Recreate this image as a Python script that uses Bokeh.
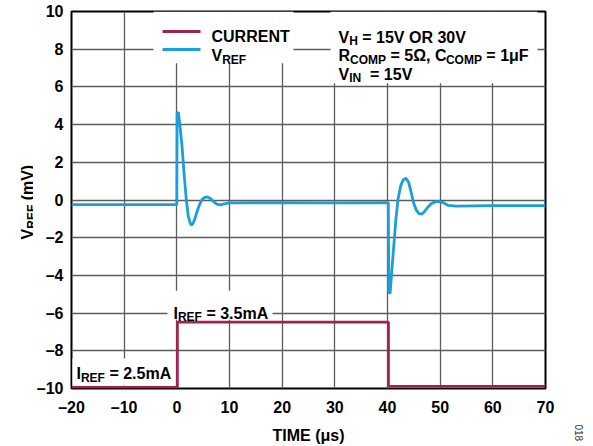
import math
from bokeh.plotting import figure
from bokeh.layouts import row
from bokeh.models import Label, FixedTicker, Range1d
from bokeh.embed import file_html
from bokeh.resources import INLINE

# ---- data -------------------------------------------------------------
# VREF transient response (mV) versus time (us)
vref_t = [-20, -10, 0.0, 0.05, 0.3, 0.6, 1.0, 1.4, 1.8, 2.2, 2.6, 2.9, 3.3, 3.8,
          4.3, 4.8, 5.3, 5.8, 6.4, 7.0, 7.6, 8.3, 9.0, 10, 20, 30, 40.15,
          40.25, 40.5, 40.8, 41.2, 41.6, 42.0, 42.5, 43.0, 43.5, 44.0, 44.5,
          45.0, 45.5, 46.0, 46.5, 47.0, 47.6, 48.3, 49.0, 49.8, 50.6, 51.5,
          53, 60, 70]
vref_mv = [-0.25, -0.25, -0.25, 4.6, 4.65, 3.9, 2.8, 1.3, 0.0, -0.9, -1.28, -1.32,
           -1.1, -0.65, -0.25, 0.02, 0.14, 0.16, 0.08, -0.1, -0.22, -0.26, -0.2,
           -0.15, -0.14, -0.15, -0.14, -4.9, -4.95, -3.8, -2.4, -1.0, 0.05, 0.75,
           1.08, 1.15, 0.95, 0.4, -0.2, -0.55, -0.72, -0.75, -0.62, -0.4, -0.2,
           -0.1, -0.07, -0.15, -0.28, -0.32, -0.3, -0.3]

# Load current step, plotted on the same axis (2.5mA -> 3.5mA -> 2.5mA)
cur_t = [-20, 0.12, 0.12, 40.2, 40.2, 70]
cur_v = [-9.93, -9.93, -6.48, -6.48, -9.88, -9.88]

x_ticks = [-20, -10, 0, 10, 20, 30, 40, 50, 60, 70]
y_ticks = [-10, -8, -6, -4, -2, 0, 2, 4, 6, 8, 10]

CUR_COLOR = "#a3224c"
VREF_COLOR = "#1aa0d8"
FONT = "Liberation Sans"
NB = "\u00a0"

# ---- page geometry (pixels) --------------------------------------------
W, H = 593, 446
LW, RW = 33, 30                     # side strips: y title / figure number
FL, FR, FT, FB = 71, 545, 11, 389   # plot frame in page pixels
X0, X1, Y0, Y1 = -20, 70, -10, 10


def X(sx):
    return X0 + (sx - FL) / (FR - FL) * (X1 - X0)


def Y(sy):
    return Y1 - (sy - FT) / (FB - FT) * (Y1 - Y0)


p = figure(width=W - LW - RW, height=H, x_range=Range1d(X0, X1),
           y_range=Range1d(Y0, Y1), output_backend="svg", toolbar_location=None,
           min_border_left=FL - LW, min_border_right=(W - RW) - FR,
           min_border_top=FT, min_border_bottom=H - FB)
p.background_fill_color = "white"
p.border_fill_color = "white"
p.outline_line_color = "black"
p.outline_line_width = 2


def fmt(v):
    return ("\u2013" + str(-v)) if v < 0 else str(v)


for ax, ticks in ((p.xaxis, x_ticks), (p.yaxis, y_ticks)):
    ax.ticker = FixedTicker(ticks=ticks)
    ax.major_label_overrides = {t: fmt(t) for t in ticks}
    ax.major_label_text_font = FONT
    ax.major_label_text_font_style = "bold"
    ax.major_label_text_font_size = "16px"
    ax.major_label_text_color = "black"
    ax.axis_line_color = None
    ax.major_tick_line_color = None
    ax.minor_tick_line_color = None
    ax.major_tick_out = 0
    ax.major_tick_in = 0
p.xaxis.major_label_standoff = 10
p.yaxis.major_label_standoff = 8

p.xaxis.axis_label = "TIME (\u03bcs)"
p.xaxis.axis_label_text_font = FONT
p.xaxis.axis_label_text_font_style = "bold"
p.xaxis.axis_label_text_font_size = "16px"
p.xaxis.axis_label_text_color = "black"
p.xaxis.axis_label_standoff = 8

p.grid.grid_line_color = "#5c5c5c"
p.grid.grid_line_width = 1.3

# white panels behind the legend, the condition block and the current labels
p.quad(left=[X(153), X(330), X(167), X(72)], right=[X(293), X(537), X(272), X(174)],
       top=[Y(FT), Y(FT), Y(291), Y(359)], bottom=[Y(63), Y(83), Y(320), Y(386)],
       fill_color="white", line_color=None)

# data traces
p.line(cur_t, cur_v, line_color=CUR_COLOR, line_width=2.6)
p.line(vref_t, vref_mv, line_color=VREF_COLOR, line_width=2.8)

# legend swatches
p.line([X(162), X(200)], [Y(31), Y(31)], line_color=CUR_COLOR, line_width=3)
p.line([X(162), X(200)], [Y(49), Y(49)], line_color=VREF_COLOR, line_width=3)

# ---- rich text helper (subscripts) --------------------------------------
ADV = {' ': 278, NB: 278, '(': 333, ')': 333, ',': 278, '.': 278, '=': 584,
       'A': 722, 'C': 722, 'E': 667, 'F': 611, 'H': 722, 'I': 278, 'M': 833,
       'N': 722, 'O': 778, 'P': 667, 'R': 722, 'T': 611, 'U': 722, 'V': 667,
       'm': 889, 's': 556, '\u03bc': 611, '\u03a9': 768}


def text_width(s, size):
    return sum(ADV.get(c, 556) for c in s) * size / 1000.0


def rich(fig, fx, fy, sx, sy, segs, angle=0.0):
    """Lay out text segments (text, size, baseline drop) one after another."""
    off = 0.0
    for txt, size, shift in segs:
        txt = txt.replace(" ", NB)
        if angle == 0:
            px, py = sx + off, sy + shift
        else:
            px, py = sx + shift, sy - off
        fig.add_layout(Label(x=fx(px), y=fy(py), text=txt, angle=angle,
                             text_font=FONT, text_font_style="bold",
                             text_font_size=f"{size}px", text_color="black",
                             text_align="left", text_baseline="alphabetic"))
        off += text_width(txt, size)


BIG, SUB, DROP = 16, 12, 4

rich(p, X, Y, 211, 36.5, [("CURRENT", BIG, 0)])
rich(p, X, Y, 211, 55.5, [("V", BIG, 0), ("REF", SUB, DROP)])

rich(p, X, Y, 338, 37, [("V", BIG, 0), ("H", SUB, DROP), (" = 15V OR 30V", BIG, 0)])
rich(p, X, Y, 338, 55.5, [("R", BIG, 0), ("COMP", SUB, DROP), (" = 5\u03a9, C", BIG, 0),
                          ("COMP", SUB, DROP), (" = 1\u03bcF", BIG, 0)])
rich(p, X, Y, 338, 74, [("V", BIG, 0), ("IN", SUB, DROP), ("  = 15V", BIG, 0)])

rich(p, X, Y, 173, 313.5, [("I", BIG, 0), ("REF", SUB, DROP), (" = 3.5mA", BIG, 0)])
rich(p, X, Y, 76, 374, [("I", BIG, 0), ("REF", SUB, DROP), (" = 2.5mA", BIG, 0)])


def strip(width, **kw):
    """A plain strip beside the chart; its frame spans the same rows as the plot."""
    f = figure(width=width, height=H, x_range=Range1d(0, width),
               y_range=Range1d(-FB, -FT), output_backend="svg",
               toolbar_location=None, y_axis_location=None,
               min_border_left=0, min_border_right=0,
               min_border_top=FT, min_border_bottom=H - FB, **kw)
    f.outline_line_color = None
    f.background_fill_color = "white"
    f.border_fill_color = "white"
    f.grid.visible = False
    return f


# vertical axis title (page pixels; y measured downwards)
left = strip(LW, x_axis_location=None)
rich(left, lambda v: v, lambda v: -v, 27, 239.5,
     [("V", BIG, 0), ("REF", SUB, DROP), (" (mV)", BIG, 0)], angle=math.pi / 2)

# figure number, set as the strip's own bottom-axis title
right = strip(RW)
rax = right.xaxis[0]
rax.ticker = FixedTicker(ticks=[])
rax.axis_line_color = None
rax.major_tick_line_color = None
rax.minor_tick_line_color = None
rax.major_tick_out = 0
rax.major_label_text_font_size = "0px"
rax.major_label_standoff = 0
rax.axis_label = "018"
rax.axis_label_orientation = "vertical"
rax.axis_label_text_font = FONT
rax.axis_label_text_font_style = "normal"
rax.axis_label_text_font_size = "10px"
rax.axis_label_text_color = "#333333"
rax.axis_label_standoff = 36

layout = row(left, p, right, spacing=0)
open("out.html", "w").write(file_html(layout, INLINE))
